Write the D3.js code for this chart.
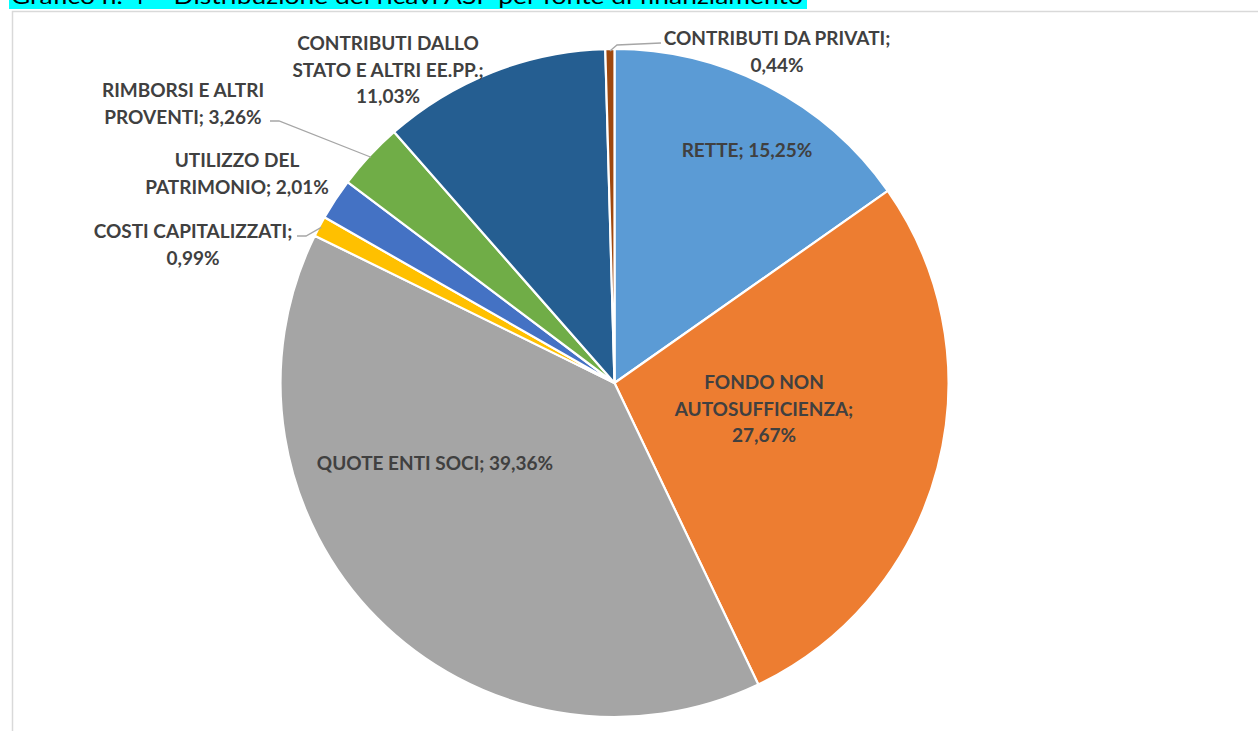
<!doctype html>
<html lang="it">
  <head>
    <meta charset="utf-8">
    <title>Distribuzione dei ricavi ASP</title>
    <style>
    body { margin: 0; background: #fff; }
    .labels text {
      font-family: Lato, "Open Sans", sans-serif;
      font-weight: bold;
      font-size: 19px;
      fill: #404040;
      text-anchor: middle;
    }
    .leaders path {
      fill: none;
      stroke: #a6a6a6;
      stroke-width: 1.3px;
    }
    </style>
  </head>
  <body>
    <svg width="1258" height="731"></svg>
    <script src="https://d3js.org/d3.v7.min.js"></script>
    <script>

    // data, clockwise from 12 o'clock
    var categories = ["RETTE", "FONDO NON AUTOSUFFICIENZA", "QUOTE ENTI SOCI", "COSTI CAPITALIZZATI",
      "UTILIZZO DEL PATRIMONIO", "RIMBORSI E ALTRI PROVENTI", "CONTRIBUTI DALLO STATO E ALTRI EE.PP.",
      "CONTRIBUTI DA PRIVATI"];
    var values = [15.25, 27.67, 39.36, 0.99, 2.01, 3.26, 11.03, 0.44];
    var colors = ["#5b9bd5", "#ed7d31", "#a5a5a5", "#ffc000", "#4472c4", "#70ad47", "#255e91", "#9e480e"];

    // label lines as Excel wrapped them
    var labelLines = [
      ["RETTE; 15,25%"],
      ["FONDO NON", "AUTOSUFFICIENZA;", "27,67%"],
      ["QUOTE ENTI SOCI; 39,36%"],
      ["COSTI CAPITALIZZATI;", "0,99%"],
      ["UTILIZZO DEL", "PATRIMONIO; 2,01%"],
      ["RIMBORSI E ALTRI", "PROVENTI; 3,26%"],
      ["CONTRIBUTI DALLO", "STATO E ALTRI EE.PP.;", "11,03%"],
      ["CONTRIBUTI DA PRIVATI;", "0,44%"]
    ];
    // center x and first-line baseline of each label
    var labelPos = [[747, 157], [764, 389], [435, 470], [193, 238], [237, 167], [183, 97], [388, 50], [777, 45]];
    // elbow + end of leader line (only for outside labels)
    var leaders = {3: [[306, 236], [297, 236]], 5: [[279, 121], [270, 121]], 7: [[617, 45], [661, 43]]};

    var fmt = function(v) { return v.toFixed(2).replace(".", ",") + "%"; };

    var svg = d3.select("svg"),
        cx = 614.5, cy = 383, radius = 334;

    // title strip (cut at the top of the page)
    svg.append("rect").attr("x", 9).attr("y", 0).attr("width", 798).attr("height", 9).attr("fill", "#00ffff");
    svg.append("text")
        .attr("x", 11).attr("y", 3.5)
        .style("font-family", "Lato, sans-serif")
        .style("font-size", "21px")
        .attr("textLength", 792)
        .attr("lengthAdjust", "spacingAndGlyphs")
        .text("Grafico n. 4 \u2013 Distribuzione dei ricavi ASP per fonte di finanziamento");

    // chart area border
    svg.append("rect")
        .attr("x", 12.5).attr("y", 11.5)
        .attr("width", 1260).attr("height", 740)
        .attr("fill", "#fff")
        .attr("stroke", "#d9d9d9")
        .attr("stroke-width", 1.5);

    var pie = d3.pie().sort(null).value(function(d) { return d; });
    var arcs = pie(values);
    var arc = d3.arc().innerRadius(0).outerRadius(radius);
    var edge = d3.arc().innerRadius(radius - 2).outerRadius(radius - 2);

    var g = svg.append("g").attr("transform", "translate(" + cx + "," + cy + ")");

    g.selectAll("path")
        .data(arcs)
        .enter().append("path")
        .attr("d", arc)
        .attr("fill", function(d, i) { return colors[i]; })
        .attr("stroke", "#fff")
        .attr("stroke-width", 2.2)
        .attr("stroke-linejoin", "round");

    var lead = svg.append("g").attr("class", "leaders");
    Object.keys(leaders).forEach(function(k) {
      var c = edge.centroid(arcs[k]);
      var pts = [[cx + c[0], cy + c[1]]].concat(leaders[k]);
      lead.append("path").attr("d", d3.line()(pts));
    });

    var lab = svg.append("g").attr("class", "labels");
    labelLines.forEach(function(lines, i) {
      var t = lab.append("text")
          .attr("x", labelPos[i][0])
          .attr("y", labelPos[i][1]);
      lines.forEach(function(s, j) {
        t.append("tspan")
            .attr("x", labelPos[i][0])
            .attr("dy", j ? 26.5 : 0)
            .text(s);
      });
      t.append("title").text(categories[i] + ": " + fmt(values[i]));
    });

    </script>
  </body>
</html>
